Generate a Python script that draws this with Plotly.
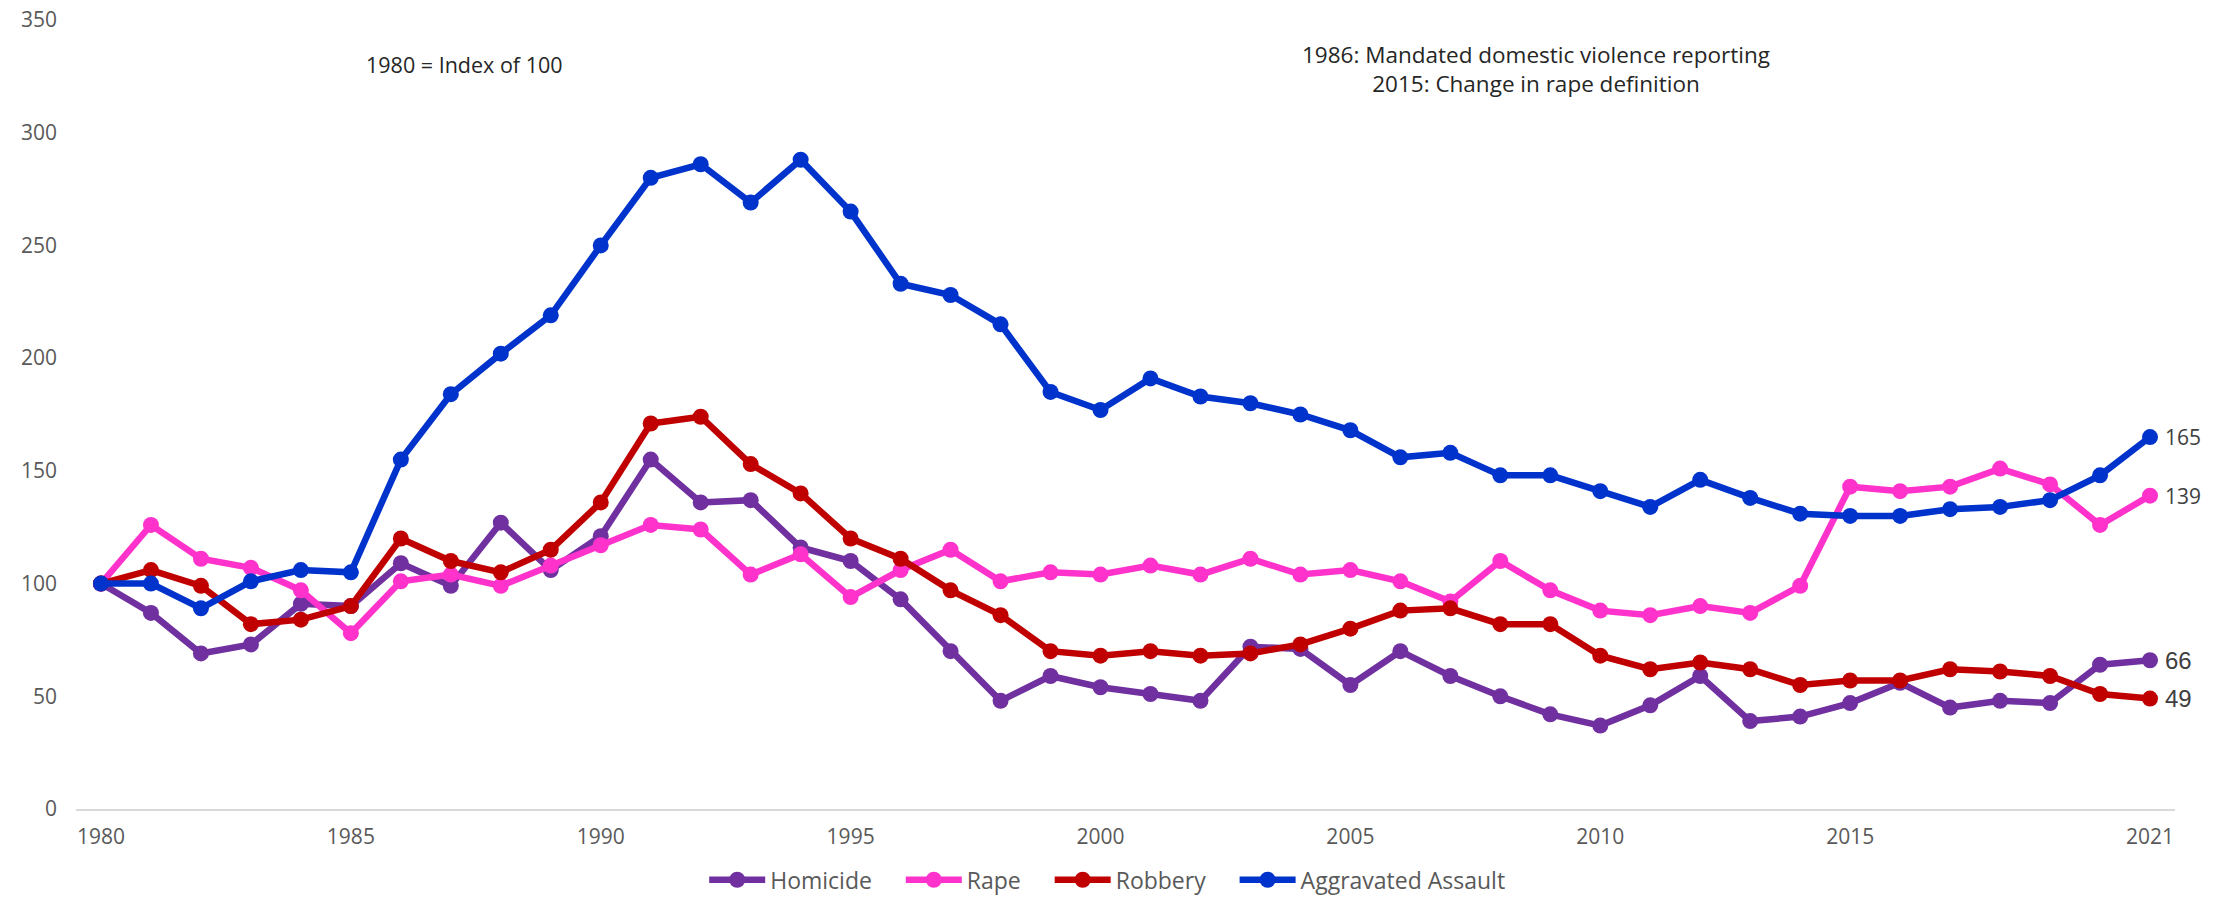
import plotly.graph_objects as go

years = list(range(1980, 2022))

homicide = [100, 87, 69, 73, 91, 90, 109, 99, 127, 106,
            121, 155, 136, 137, 116, 110, 93, 70, 48, 59,
            54, 51, 48, 72, 71, 55, 70, 59, 50, 42,
            37, 46, 59, 39, 41, 47, 56, 45, 48, 47,
            64, 66]
rape = [100, 126, 111, 107, 97, 78, 101, 104, 99, 108,
        117, 126, 124, 104, 113, 94, 106, 115, 101, 105,
        104, 108, 104, 111, 104, 106, 101, 92, 110, 97,
        88, 86, 90, 87, 99, 143, 141, 143, 151, 144,
        126, 139]
robbery = [100, 106, 99, 82, 84, 90, 120, 110, 105, 115,
           136, 171, 174, 153, 140, 120, 111, 97, 86, 70,
           68, 70, 68, 69, 73, 80, 88, 89, 82, 82,
           68, 62, 65, 62, 55, 57, 57, 62, 61, 59,
           51, 49]
assault = [100, 100, 89, 101, 106, 105, 155, 184, 202, 219,
           250, 280, 286, 269, 288, 265, 233, 228, 215, 185,
           177, 191, 183, 180, 175, 168, 156, 158, 148, 148,
           141, 134, 146, 138, 131, 130, 130, 133, 134, 137,
           148, 165]

series_names = ["Homicide", "Rape", "Robbery", "Aggravated Assault"]
series_values = [homicide, rape, robbery, assault]
series_colors = ["#7030A0", "#FF33CC", "#C00000", "#0033CC"]
label_fonts = [("Liberation Sans, Arial, sans-serif", 24),
               ("Open Sans, sans-serif", 21),
               ("Liberation Sans, Arial, sans-serif", 24),
               ("Open Sans, sans-serif", 21)]

xtick_vals = [1980, 1985, 1990, 1995, 2000, 2005, 2010, 2015, 2021]

FONT = "Open Sans, sans-serif"
LEGEND_PAD = "\u00a0" * 4

fig = go.Figure()
for name, vals, col in zip(series_names, series_values, series_colors):
    fig.add_trace(go.Scatter(
        x=years, y=vals, name=name + LEGEND_PAD, mode="lines+markers",
        line=dict(color=col, width=6.5),
        marker=dict(color=col, size=16),
    ))

annotations = []
for name, vals, (ff, fs) in zip(series_names, series_values, label_fonts):
    annotations.append(dict(
        x=years[-1], y=vals[-1], xref="x", yref="y",
        text=str(vals[-1]), showarrow=False,
        xanchor="left", yanchor="middle", xshift=13,
        font=dict(family=ff, size=fs, color="#404040"),
    ))

annotations.append(dict(
    x=0.1853, y=0.943, xref="paper", yref="paper",
    text="1980 = Index of 100", showarrow=False,
    xanchor="center", yanchor="middle",
    font=dict(family=FONT, size=21.5, color="#262626"),
))
annotations.append(dict(
    x=0.6958, y=0.9385, xref="paper", yref="paper",
    text="1986: Mandated domestic violence reporting<br>2015: Change in rape definition",
    showarrow=False, align="center",
    xanchor="center", yanchor="middle",
    font=dict(family=FONT, size=22.5, color="#262626"),
))

fig.update_layout(
    width=2229, height=898, autosize=False,
    margin=dict(l=76, r=54, t=20, b=89, autoexpand=False),
    paper_bgcolor="white", plot_bgcolor="white",
    font=dict(family=FONT, size=21, color="#595959"),
    xaxis=dict(
        range=[1979.5, 2021.5], tickmode="array", tickvals=xtick_vals,
        showgrid=False, zeroline=False, showline=True,
        linecolor="#D9D9D9", linewidth=2, ticks="",
        tickfont=dict(family=FONT, size=21, color="#595959"),
        ticklabelstandoff=8, automargin=False,
    ),
    yaxis=dict(
        range=[0, 350], tickmode="linear", tick0=0, dtick=50,
        showgrid=False, zeroline=False, showline=False, ticks="",
        tickfont=dict(family=FONT, size=21, color="#595959"),
        ticklabelstandoff=18, automargin=False,
    ),
    legend=dict(
        orientation="h", x=0.497, xanchor="center",
        y=-0.117, yanchor="bottom",
        font=dict(family=FONT, size=23, color="#595959"),
        itemwidth=56, bgcolor="rgba(0,0,0,0)",
    ),
    annotations=annotations,
    showlegend=True,
)

fig.write_html(
    "out.html",
    config={"displayModeBar": False},
    post_script="document.body.style.margin='0';document.body.style.overflow='hidden';",
)
